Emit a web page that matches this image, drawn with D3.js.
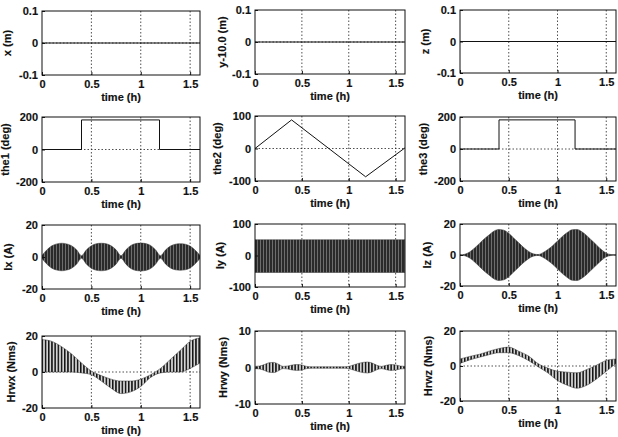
<!DOCTYPE html>
<html>
<head>
<meta charset="utf-8">
<script src="https://cdn.jsdelivr.net/npm/d3@7"></script>
<style>
  body { margin: 0; background: #fff; }
  text { font-family: "Liberation Sans", Arial, sans-serif; font-weight: bold; font-size: 11px; fill: #111; stroke: #111; stroke-width: 0.15px; }
</style>
</head>
<body>
<div id="chart"></div>
<script>
// ---- data ----
const timeTicks = [0, 0.5, 1, 1.5];
const tEnds = [0, 1.6];
const t10 = [0, 0.1, 0.2, 0.3, 0.4, 0.5, 0.6, 0.7, 0.8, 0.9, 1, 1.1, 1.2, 1.3, 1.4, 1.5, 1.6];
const t05 = [0, 0.05, 0.1, 0.15, 0.2, 0.25, 0.3, 0.35, 0.4, 0.45, 0.5, 0.55, 0.6, 0.65, 0.7, 0.75, 0.8,
             0.85, 0.9, 0.95, 1, 1.05, 1.1, 1.15, 1.2, 1.25, 1.3, 1.35, 1.4, 1.45, 1.5, 1.55, 1.6];

// position error (m)
const xPos = [0, 0];
const yPos = [0, 0];
const zPos = [0, 0];

// gimbal angles (deg)
const the1T = [0, 0.4, 0.4, 1.19, 1.19, 1.6];
const the1V = [0, 0, 182, 182, 0, 0];
const the2T = [0, 0.39, 1.18, 1.6];
const the2V = [0, 88, -87, 2];
const the3T = [0, 0.4, 0.4, 1.18, 1.18, 1.6];
const the3V = [0, 0, 182, 182, 0, 0];

// currents: envelope of the fast oscillation (A)
const ixEnv = [1, 4.5, 7, 8.2, 8.6, 8.2, 7, 4.5, 0.8, 4.5, 7, 8.3, 8.6, 8.3, 7, 4.5, 0.8,
               4.5, 7.2, 8.4, 8.7, 8.4, 7.2, 4.5, 0.8, 4.3, 6.8, 8, 8.3, 8, 6.8, 4.3, 1];
const iyHi = [50, 50];
const iyLo = [-54, -54];
const izEnv = [0, 0.5, 2, 4.5, 7.5, 10.5, 13, 15.5, 16.5, 16, 14, 11, 8, 5, 2.5, 0.8, 0.3,
               1.5, 3.5, 6, 9, 12, 14.5, 16.3, 16.5, 15, 12.5, 9.5, 6.5, 3.5, 1.2, 0.3, 0.2];

// wheel momentum: upper / lower envelope (Nms)
const hwxHi = [18, 17, 14, 10, 5, 0.5, -2, -4, -5, -5, -4, -1.5, 2, 7, 12, 17, 19];
const hwxLo = [0, 0, 0, 0, -0.5, -1.5, -5, -9, -12, -11, -8, -3, -0.5, 0, 0, 2, 5];
const hwyEnv = [0.3, 0.4, 0.8, 1.3, 1.4, 0.9, 0.3, 0.4, 0.7, 0.8, 0.7, 0.3, 0.2, 0.2, 0.2, 0.2, 0.2,
                0.2, 0.2, 0.2, 0.3, 0.7, 1.1, 1.4, 1.5, 1.2, 0.6, 0.3, 0.6, 0.8, 0.7, 0.4, 0.3];
const hwzHi = [4, 5.5, 6.7, 8.5, 10, 10.8, 8.5, 5.8, 1.4, -1.2, -3, -3.5, -3.9, -2, 0.5, 3.2, 4];
const hwzLo = [1.5, 3.5, 5, 6.5, 7.6, 7.6, 6, 3.2, -0.4, -3.9, -8.3, -11, -12.7, -11, -7.4, -3, 1.4];

// ---- panels ----
const panels = [
  { label: "x (m)",      ticks: [-0.1, 0, 0.1], type: "line", t: tEnds, v: xPos },
  { label: "y-10.0 (m)", ticks: [-0.1, 0, 0.1], type: "line", t: tEnds, v: yPos },
  { label: "z (m)",      ticks: [-0.1, 0, 0.1], type: "line", t: tEnds, v: zPos },
  { label: "the1 (deg)", ticks: [-200, 0, 200], type: "line", t: the1T, v: the1V },
  { label: "the2 (deg)", ticks: [-100, 0, 100], type: "line", t: the2T, v: the2V },
  { label: "the3 (deg)", ticks: [-200, 0, 200], type: "line", t: the3T, v: the3V },
  { label: "Ix (A)",     ticks: [-20, 0, 20],   type: "band", fill: "dense", t: t05, hi: ixEnv, lo: ixEnv.map(d => -d) },
  { label: "Iy (A)",     ticks: [-100, 0, 100], type: "band", fill: "dense", t: tEnds, hi: iyHi, lo: iyLo },
  { label: "Iz (A)",     ticks: [-20, 0, 20],   type: "band", fill: "dense", t: t05, hi: izEnv, lo: izEnv.map(d => -d) },
  { label: "Hrwx (Nms)", ticks: [-20, 0, 20],   type: "band", fill: "zig", t: t10, hi: hwxHi, lo: hwxLo },
  { label: "Hrwy (Nms)", ticks: [-10, 0, 10],   type: "band", fill: "zig", t: t05, hi: hwyEnv, lo: hwyEnv.map(d => -d) },
  { label: "Hrwz (Nms)", ticks: [-20, 0, 20],   type: "band", fill: "zig", t: t10, hi: hwzHi, lo: hwzLo }
];

// plot boxes [left, right, top, bottom] and y-label centre x (scan is slightly skewed)
const boxes = [
  [42, 200, 11, 75],   [255, 405, 10, 74],   [460, 616, 10, 73],
  [42, 200, 117, 182], [255, 405, 116, 181], [460, 616, 117, 181],
  [42, 200, 225, 289], [255, 405, 224, 287], [460, 616, 224, 286],
  [42, 200, 336, 408], [255, 405, 331, 404], [460, 616, 331, 401]
];
const ylabX = [7, 222, 425, 5, 217, 423, 8, 220, 427, 11, 223, 428];

const width = 618, height = 437;
const svg = d3.select("#chart").append("svg")
  .attr("width", width)
  .attr("height", height);

const defs = svg.append("defs");
const dense = defs.append("pattern").attr("id", "dense")
  .attr("patternUnits", "userSpaceOnUse").attr("width", 3).attr("height", 10);
dense.append("rect").attr("width", 3).attr("height", 10).attr("fill", "#2a2a2a");
dense.append("rect").attr("x", 2).attr("width", 0.7).attr("height", 10).attr("fill", "#8a8a8a");

const zig = defs.append("pattern").attr("id", "zig")
  .attr("patternUnits", "userSpaceOnUse").attr("width", 3.2).attr("height", 10);
zig.append("rect").attr("width", 3.2).attr("height", 10).attr("fill", "#d4d4d4");
zig.append("rect").attr("width", 1.5).attr("height", 10).attr("fill", "#111");

panels.forEach((p, i) => {
  const b = boxes[i];
  const g = svg.append("g").attr("class", "panel");

  const x = d3.scaleLinear().domain([0, 1.6]).range([b[0], b[1]]);
  const y = d3.scaleLinear().domain([p.ticks[0], p.ticks[2]]).range([b[3], b[2]]);

  // dotted grid
  g.selectAll(".gx").data(timeTicks.slice(1)).join("line")
    .attr("x1", d => x(d)).attr("x2", d => x(d))
    .attr("y1", b[2]).attr("y2", b[3])
    .attr("stroke", "#222").attr("stroke-width", 0.8).attr("stroke-dasharray", "1.5,2");
  g.append("line")
    .attr("x1", b[0]).attr("x2", b[1])
    .attr("y1", y(p.ticks[1])).attr("y2", y(p.ticks[1]))
    .attr("stroke", "#222").attr("stroke-width", 0.8).attr("stroke-dasharray", "1.5,2");

  // clip
  defs.append("clipPath").attr("id", "clip" + i)
    .append("rect").attr("x", b[0]).attr("y", b[2])
    .attr("width", b[1] - b[0]).attr("height", b[3] - b[2]);
  const plot = g.append("g").attr("clip-path", "url(#clip" + i + ")");

  if (p.type === "line") {
    const pts = p.t.map((t, k) => [t, p.v[k]]);
    plot.append("path")
      .attr("d", d3.line().x(d => x(d[0])).y(d => y(d[1]))(pts))
      .attr("fill", "none").attr("stroke", "#111").attr("stroke-width", 1);
  } else {
    const pts = p.t.map((t, k) => ({ t: t, hi: p.hi[k], lo: p.lo[k] }));
    const area = d3.area().curve(d3.curveMonotoneX)
      .x(d => x(d.t)).y0(d => y(d.lo)).y1(d => y(d.hi));
    plot.append("path").attr("d", area(pts))
      .attr("fill", "url(#" + p.fill + ")")
      .attr("stroke", "#333").attr("stroke-width", 0.5);
  }

  // box
  g.append("rect")
    .attr("x", b[0]).attr("y", b[2])
    .attr("width", b[1] - b[0]).attr("height", b[3] - b[2])
    .attr("fill", "none").attr("stroke", "#111").attr("stroke-width", 1);

  // axes
  const xa = g.append("g").attr("transform", "translate(0," + b[3] + ")")
    .call(d3.axisBottom(x).tickValues(timeTicks).tickFormat(d => String(d))
      .tickSizeInner(-3).tickSizeOuter(0).tickPadding(5));
  xa.select(".domain").remove();
  const ya = g.append("g").attr("transform", "translate(" + b[0] + ",0)")
    .call(d3.axisLeft(y).tickValues(p.ticks).tickFormat(d => String(d))
      .tickSizeInner(-3).tickSizeOuter(0).tickPadding(4));
  ya.select(".domain").remove();
  g.selectAll(".tick line").attr("stroke", "#111");

  // labels
  g.append("text")
    .attr("x", (b[0] + b[1]) / 2).attr("y", b[3] + 26)
    .attr("text-anchor", "middle")
    .text("time (h)");
  g.append("text")
    .attr("transform", "translate(" + (ylabX[i] + 4) + "," + ((b[2] + b[3]) / 2) + ") rotate(-90)")
    .attr("text-anchor", "middle")
    .text(p.label);
});
</script>
</body>
</html>
